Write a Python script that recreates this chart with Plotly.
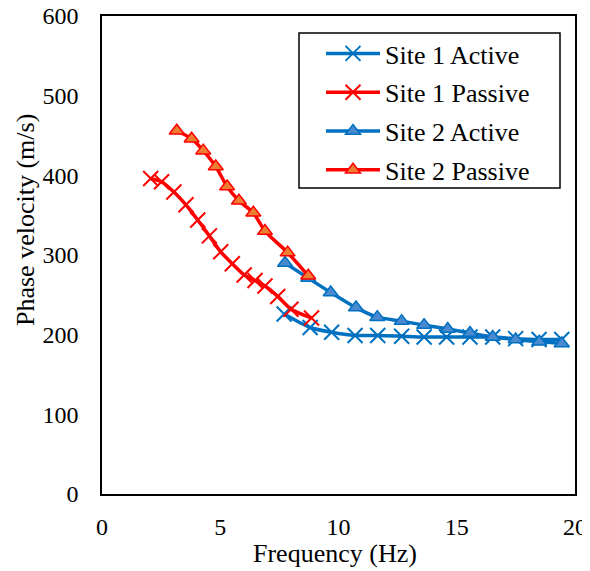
import plotly.graph_objects as go

s1_act_x = [7.70, 8.80, 9.71, 10.70, 11.66, 12.67, 13.62, 14.57, 15.56, 16.52, 17.49, 18.48, 19.44]
s1_act_y = [226, 209, 203, 199, 199, 198, 197, 197, 197, 197, 195, 194, 194]

s1_pas_x = [2.06, 2.52, 3.04, 3.55, 4.05, 4.54, 5.02, 5.51, 6.01, 6.47, 6.89, 7.43, 7.99, 8.86]
s1_pas_y = [396, 392, 379, 363, 344, 324, 304, 289, 275, 268, 261, 248, 232, 221]

s2_act_x = [7.74, 8.72, 9.67, 10.74, 11.64, 12.67, 13.62, 14.62, 15.56, 16.52, 17.49, 18.49, 19.44]
s2_act_y = [290, 271, 253, 234, 222, 217, 212, 207, 202, 197, 194, 191, 189]

s2_pas_x = [3.16, 3.79, 4.28, 4.81, 5.29, 5.79, 6.40, 6.89, 7.85, 8.72]
s2_pas_y = [456, 446, 431, 411, 386, 368, 353, 330, 303, 274]

x_ticks = [0, 5, 10, 15, 20]
y_ticks = [0, 100, 200, 300, 400, 500, 600]

BLUE = "#0070C0"
RED = "#FF0000"
FONT = "Liberation Serif"
FS_TICK = 24
FS_TITLE = 26
FS_LEG = 26

# page is drawn with an 8px body margin; work in window pixels
OFF = 8
W, H = 590 - OFF, 571 - OFF
PL, PR, PT, PB = 102, 575, 16, 494  # plot area in window px
ml, mr, mt, mb = PL - OFF, (OFF + W) - PR, PT - OFF, (OFF + H) - PB
pw, ph = PR - PL, PB - PT


def px(xw):
    return (xw - PL) / pw


def py(yw):
    return (PB - yw) / ph


fig = go.Figure()
fig.add_trace(go.Scatter(
    x=s1_act_x, y=s1_act_y, name="Site 1 Active", mode="lines+markers",
    line=dict(color=BLUE, width=3.5, shape="spline", smoothing=0.6),
    marker=dict(symbol="x-thin", size=15, line=dict(color=BLUE, width=2)),
    legendgroup="a"))
fig.add_trace(go.Scatter(
    x=s1_pas_x, y=s1_pas_y, name="Site 1 Passive", mode="lines+markers",
    line=dict(color=RED, width=3.5, shape="spline", smoothing=0.6),
    marker=dict(symbol="x-thin", size=15, line=dict(color=RED, width=2)),
    legendgroup="b"))
fig.add_trace(go.Scatter(
    x=s2_act_x, y=s2_act_y, name="Site 2 Active", mode="lines+markers",
    line=dict(color=BLUE, width=3.5, shape="spline", smoothing=0.6),
    marker=dict(symbol="triangle-up", size=13, color="#4A8AD0", line=dict(color=BLUE, width=1.5)),
    legendgroup="c"))
fig.add_trace(go.Scatter(
    x=s2_pas_x, y=s2_pas_y, name="Site 2 Passive", mode="lines+markers",
    line=dict(color=RED, width=3.5, shape="spline", smoothing=0.6),
    marker=dict(symbol="triangle-up", size=13, color="#ED7D31", line=dict(color=RED, width=1.5)),
    legendgroup="d"))

fig.update_layout(
    template="none",
    width=W, height=H,
    margin=dict(l=ml, r=mr, t=mt, b=mb, autoexpand=False),
    paper_bgcolor="white", plot_bgcolor="white",
    font=dict(family=FONT, size=FS_TICK, color="black"),
    showlegend=True,
    legend=dict(
        x=px(321), y=py(30), xanchor="left", yanchor="top",
        borderwidth=0, bgcolor="rgba(0,0,0,0)",
        font=dict(family=FONT, size=FS_LEG, color="black"),
        tracegroupgap=2, traceorder="grouped", itemwidth=54),
    shapes=[dict(
        type="rect", xref="paper", yref="paper",
        x0=px(299), x1=px(560), y0=py(188), y1=py(33),
        line=dict(color="black", width=1.5), fillcolor="rgba(0,0,0,0)", layer="above")],
    xaxis=dict(
        range=[0, 20], tickvals=x_ticks, showgrid=False, zeroline=False,
        showline=True, linecolor="black", linewidth=1.5, mirror=True, ticks="",
        automargin=False, ticklabelstandoff=10, ticklabeloverflow="allow",
        tickfont=dict(family=FONT, size=FS_TICK)),
    yaxis=dict(
        range=[0, 600], tickvals=y_ticks, showgrid=False, zeroline=False,
        showline=True, linecolor="black", linewidth=1.5, mirror=True, ticks="",
        automargin=False, ticklabelstandoff=17, ticklabeloverflow="allow",
        tickfont=dict(family=FONT, size=FS_TICK)),
    annotations=[
        dict(text="Phase velocity (m/s)", textangle=-90, showarrow=False,
             xref="paper", yref="paper", x=px(25), y=py(220),
             xanchor="center", yanchor="middle", font=dict(family=FONT, size=FS_TITLE)),
        dict(text="Frequency (Hz)", showarrow=False,
             xref="paper", yref="paper", x=px(335), y=py(553),
             xanchor="center", yanchor="middle", font=dict(family=FONT, size=FS_TITLE)),
    ],
)

fig.write_html("out.html")
